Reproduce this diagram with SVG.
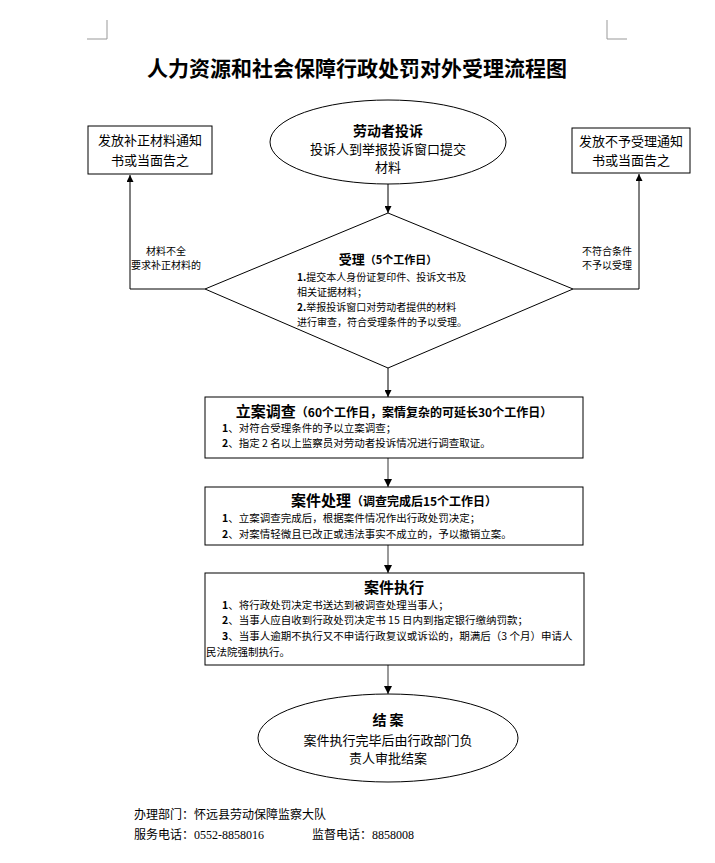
<svg xmlns="http://www.w3.org/2000/svg" width="715" height="863" viewBox="0 0 715 863">
<style>
text{font-family:"Noto Sans CJK SC","Liberation Sans",sans-serif;fill:#000}
.t{font-size:21px;font-weight:bold;text-anchor:middle}
.s{fill:#fff;stroke:#000;stroke-width:1}
.c{fill:none;stroke:#000;stroke-width:1}
.g{fill:none;stroke:#555;stroke-width:1.2}
.m{text-anchor:middle}
.b{font-weight:bold}
.f10{font-size:10px}
.f105{font-size:10.5px}
.f12{font-size:12px}
.f13{font-size:13px}
.f14{font-size:14px}
.crop{stroke:#999;stroke-width:1;fill:none}
</style>
<defs>
<marker id="ah" viewBox="0 0 10 10" refX="10" refY="5" markerWidth="7" markerHeight="7" orient="auto"><path d="M0,0 L10,5 L0,10 z" fill="#000"/></marker>
</defs>
<rect width="715" height="863" fill="#fff"/>
<path class="crop" d="M107,20 V39 H87 M607,20 V39 H627"/>
<text class="t" x="357" y="76">人力资源和社会保障行政处罚对外受理流程图</text>

<g id="connectors">
<line class="c" x1="388" y1="184" x2="388" y2="213" marker-end="url(#ah)"/>
<polyline class="c" points="205,289 130,289 130,175" marker-end="url(#ah)"/>
<polyline class="c" points="573,289 639,289 639,174" marker-end="url(#ah)"/>
<line class="c" x1="388" y1="368" x2="388" y2="397" marker-end="url(#ah)"/>
<line class="g" x1="388" y1="458" x2="388" y2="487" marker-end="url(#ah)"/>
<line class="g" x1="388" y1="545" x2="388" y2="573" marker-end="url(#ah)"/>
<line class="g" x1="388" y1="665" x2="388" y2="694" marker-end="url(#ah)"/>
<text class="m f10" x="166" y="255">材料不全</text>
<text class="m f10" x="166" y="269">要求补正材料的</text>
<text class="m f10" x="607" y="255">不符合条件</text>
<text class="m f10" x="607" y="269">不予以受理</text>
</g>

<g id="start">
<ellipse class="s" cx="388" cy="142" rx="118" ry="42"/>
<text class="m b f14" x="388" y="136">劳动者投诉</text>
<text class="m f13" x="388" y="154">投诉人到举报投诉窗口提交</text>
<text class="m f13" x="388" y="172">材料</text>
</g>

<g id="supplement">
<rect class="s" x="88" y="126" width="124" height="48"/>
<text class="m f13" x="150" y="145">发放补正材料通知</text>
<text class="m f13" x="150" y="165">书或当面告之</text>
</g>

<g id="reject">
<rect class="s" x="572" y="128" width="118" height="45"/>
<text class="m f13" x="631" y="146">发放不予受理通知</text>
<text class="m f13" x="631" y="165">书或当面告之</text>
</g>

<g id="accept">
<polygon class="s" points="388,213 573,289 388,368 205,289"/>
<text class="m b" x="388" y="264"><tspan font-size="13">受理</tspan><tspan font-size="11">（5个工作日）</tspan></text>
<text class="f10" x="297" y="281"><tspan class="b">1.</tspan>提交本人身份证复印件、投诉文书及</text>
<text class="f10" x="297" y="296">相关证据材料；</text>
<text class="f10" x="297" y="311"><tspan class="b">2.</tspan>举报投诉窗口对劳动者提供的材料</text>
<text class="f10" x="297" y="326">进行审查，符合受理条件的予以受理。</text>
</g>

<g id="investigate">
<rect class="s" x="205" y="397" width="378" height="61"/>
<text class="m b" x="394" y="417"><tspan font-size="15">立案调查</tspan><tspan font-size="12">（60个工作日，案情复杂的可延长30个工作日）</tspan></text>
<text class="f105" x="222" y="432"><tspan class="b">1</tspan>、对符合受理条件的予以立案调查；</text>
<text class="f105" x="222" y="447"><tspan class="b">2</tspan>、指定 2 名以上监察员对劳动者投诉情况进行调查取证。</text>
</g>

<g id="handle">
<rect class="s" x="205" y="487" width="378" height="58"/>
<text class="m b" x="394" y="506"><tspan font-size="15">案件处理</tspan><tspan font-size="12">（调查完成后15个工作日）</tspan></text>
<text class="f105" x="222" y="522"><tspan class="b">1</tspan>、立案调查完成后，根据案件情况作出行政处罚决定；</text>
<text class="f105" x="222" y="538"><tspan class="b">2</tspan>、对案情轻微且已改正或违法事实不成立的，予以撤销立案。</text>
</g>

<g id="execute">
<rect class="s" x="205" y="573" width="379" height="92"/>
<text class="m b" x="394" y="593" font-size="15">案件执行</text>
<text class="f105" x="222" y="609"><tspan class="b">1</tspan>、将行政处罚决定书送达到被调查处理当事人；</text>
<text class="f105" x="222" y="624"><tspan class="b">2</tspan>、当事人应自收到行政处罚决定书 15 日内到指定银行缴纳罚款；</text>
<text class="f105" x="222" y="640"><tspan class="b">3</tspan>、当事人逾期不执行又不申请行政复议或诉讼的，期满后（3 个月）申请人</text>
<text class="f105" x="206" y="656">民法院强制执行。</text>
</g>

<g id="end">
<ellipse class="s" cx="388" cy="738" rx="130" ry="44"/>
<text class="m b f14" x="388" y="725">结 案</text>
<text class="m f13" x="388" y="745">案件执行完毕后由行政部门负</text>
<text class="m f13" x="388" y="763">责人审批结案</text>
</g>

<g id="footer">
<text class="f12" x="134" y="819">办理部门：怀远县劳动保障监察大队</text>
<text class="f12" x="134" y="839">服务电话：<tspan font-family="Liberation Serif">0552-8858016</tspan></text>
<text class="f12" x="312" y="839">监督电话：<tspan font-family="Liberation Serif">8858008</tspan></text>
</g>
</svg>
